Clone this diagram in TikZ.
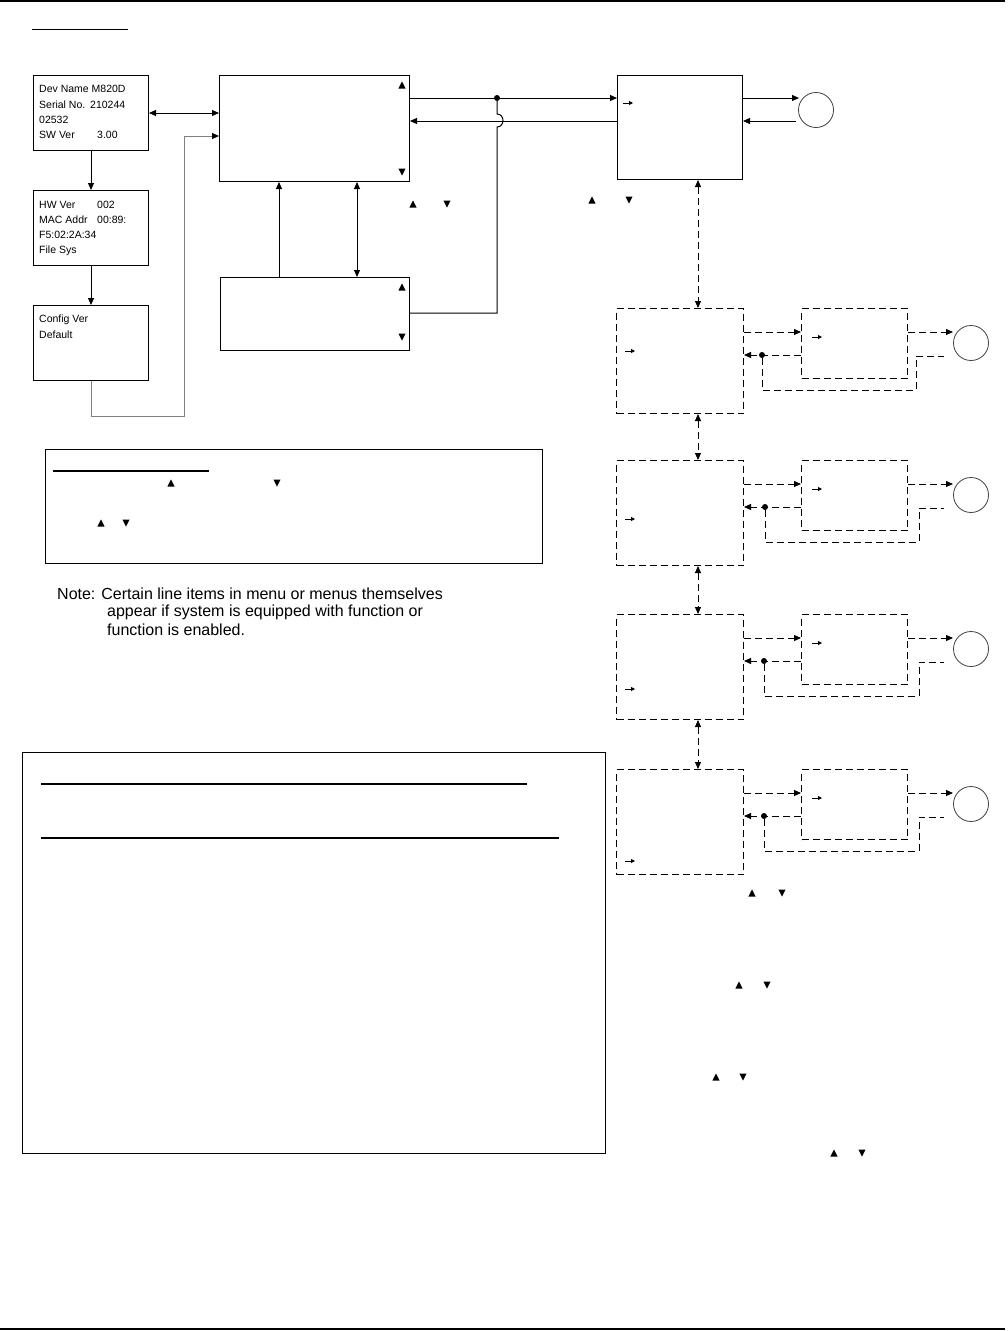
\documentclass[tikz,border=0pt]{standalone}
\usepackage{fontspec}
\setmainfont{Liberation Sans}
\usetikzlibrary{arrows.meta}
\tikzset{
  box/.style={draw, line width=1pt, inner sep=0pt, anchor=north west},
  dsh/.style={dash pattern=on 7pt off 4pt},
  conn/.style={line width=1pt},
  arr/.style={conn, -{Triangle[length=7pt,width=6pt]}},
  darr/.style={conn, {Triangle[length=7pt,width=6pt]}-{Triangle[length=7pt,width=6pt]}},
  tinyarr/.style={line width=0.9pt, -{Triangle[length=4pt,width=4pt]}},
  dot/.style={circle, fill, inner sep=0pt, minimum size=6pt},
  ring/.style={circle, draw=black!75, line width=0.8pt, minimum size=35pt, inner sep=0pt},
  txt/.style={anchor=west, inner sep=0pt, font=\fontsize{10.5}{12}\selectfont},
  note/.style={anchor=west, inner sep=0pt, font=\fontsize{16}{18}\selectfont},
  rule/.style={line width=2.5pt},
  uptri/.pic={\fill (-3.6,3.5) -- (3.6,3.5) -- (0,-3.5) -- cycle;},
  dntri/.pic={\fill (-3.6,-3.5) -- (3.6,-3.5) -- (0,3.5) -- cycle;}
}
\begin{document}
\begin{tikzpicture}[x=1pt,y=-1pt]
\useasboundingbox (0,0) rectangle (1008,1331);
% page rules
\draw[line width=1.5pt] (0,1) -- (1005,1);
\draw[line width=2.5pt] (0,1329) -- (1005,1329);
\draw[line width=1pt] (32,29) -- (128,29);

% left info boxes
\node[box, minimum width=115pt, minimum height=75pt] (A) at (33,75) {};
\node[box, minimum width=115pt, minimum height=75pt] (B) at (33,190) {};
\node[box, minimum width=115pt, minimum height=75pt] (C) at (33,305) {};
\node[txt] (a1) at (39,89) {Dev Name M820D};
\node[txt] (a2) at (39,105) {Serial No.};
\node[txt] (a2b) at (90,105) {210244};
\node[txt] (a3) at (39,120) {02532};
\node[txt] (a4) at (39,135) {SW Ver};
\node[txt] (a4b) at (97,135) {3.00};
\node[txt] (b1) at (39,205) {HW Ver};
\node[txt] (b1b) at (97,205) {002};
\node[txt] (b2) at (39,220) {MAC Addr};
\node[txt] (b2b) at (97,220) {00:89:};
\node[txt] (b3) at (39,235) {F5:02:2A:34};
\node[txt] (b4) at (39,251) {File Sys};
\node[txt] (c1) at (39,320) {Config Ver};
\node[txt] (c2) at (39,335) {Default};

% main menu boxes
\node[box, minimum width=190pt, minimum height=106pt] (M) at (219,75) {};
\node[box, minimum width=189pt, minimum height=73pt] (S) at (220,277) {};
\node[box, minimum width=125pt, minimum height=104pt] (R) at (617,75) {};
\pic at (402,85) {uptri};
\pic at (402,172) {dntri};
\pic at (402,287) {uptri};
\pic at (402,337) {dntri};

% connectors left
\draw[arr] (A.south) -- (B.north);
\draw[arr] (B.south) -- (C.north);
\draw[darr] (A.east) -- (A.east -| M.west);
\coordinate (g1) at (91,416);
\coordinate (g2) at (184,416);
\coordinate (g3) at (184,136);
\draw[line width=1pt, draw=black!50, -{Triangle[length=7pt,width=6pt,color=black]}]
  (C.south -| g1) -- (g1) -- (g2) -- (g3) -- (g3 -| M.west);
\coordinate (u1) at (279,0);
\coordinate (u2) at (357,0);
\draw[arr] (S.north -| u1) -- (M.south -| u1);
\draw[darr] (S.north -| u2) -- (M.south -| u2);

% M <-> R
\node[dot] (jd) at (497,98) {};
\coordinate (k) at (0,121);
\draw[arr] (M.east |- jd) -- (R.west |- jd);
\draw[arr] (R.west |- k) -- (M.east |- k);
\coordinate (sj) at (497,313);
\draw[conn] (jd) -- (497,114) .. controls (505,114) and (505,127) .. (497,127) -- (sj) -- (sj -| S.east);

% R and its circle
\node[ring] (O0) at (816,110) {};
\coordinate (o0a) at (799,98);
\coordinate (o0b) at (796,121);
\draw[arr] (R.east |- jd) -- (o0a);
\draw[arr] (o0b) -- (R.east |- k);
\draw[tinyarr] (623,103) -- (633,103);

% triangles outside
\pic at (413,204) {uptri};
\pic at (447,204) {dntri};
\pic at (592,200) {uptri};
\pic at (629,200) {dntri};
\pic at (752,893) {uptri};
\pic at (782,893) {dntri};
\pic at (739,985) {uptri};
\pic at (767,985) {dntri};
\pic at (716,1077) {uptri};
\pic at (743,1077) {dntri};
\pic at (834,1153) {uptri};
\pic at (862,1153) {dntri};

% dashed sub menus
\foreach \i/\t/\dx/\lx/\doff in {1/308/762/916/43, 2/460/765/919/59, 3/614/764/919/75, 4/769/764/919/92}{
  \node[box, dsh, minimum width=127pt, minimum height=105pt] (D\i) at (616,\t) {};
  \node[box, dsh, minimum width=106pt, minimum height=70pt] (E\i) at (801,\t) {};
  \node[ring] (O\i) at (971,\t+35) {};
  \coordinate (a\i) at (953,\t+24);
  \coordinate (r\i) at (0,\t+47);
  \draw[arr, dsh] (D\i.east |- a\i) -- (E\i.west |- a\i);
  \draw[arr, dsh] (E\i.east |- a\i) -- (a\i);
  \node[dot] (p\i) at (\dx,\t+47) {};
  \draw[arr, dsh] (E\i.west |- r\i) -- (D\i.east |- r\i);
  \draw[conn, dsh] (p\i) -- (\dx,\t+82) -- (\lx,\t+82) -- (\lx,\t+48) -- (944,\t+48);
  \draw[tinyarr] (625,\t+\doff) -- (635,\t+\doff);
  \draw[tinyarr] (812,\t+29) -- (822,\t+29);
}
\coordinate (vx) at (698,0);
\draw[darr, dsh] (R.south -| vx) -- (D1.north -| vx);
\draw[darr, dsh] (D1.south -| vx) -- (D2.north -| vx);
\draw[darr, dsh] (D2.south -| vx) -- (D3.north -| vx);
\draw[darr, dsh] (D3.south -| vx) -- (D4.north -| vx);

% legend box
\node[box, minimum width=497pt, minimum height=114pt] (L) at (45,449) {};
\draw[line width=2pt] (53,471) -- (209,471);
\pic at (171,483) {uptri};
\pic at (277,483) {dntri};
\pic at (101,523) {uptri};
\pic at (126,523) {dntri};

% note
\node[note] (n1) at (57,594) {Note: Certain line items in menu or menus themselves};
\node[note] (n2) at (107,612) {appear if system is equipped with function or};
\node[note] (n3) at (107,630) {function is enabled.};

% big box
\node[box, minimum width=583pt, minimum height=401pt] (Big) at (22,752) {};
\draw[rule] (41,784) -- (527,784);
\draw[rule] (41,838) -- (559,838);
\end{tikzpicture}
\end{document}
